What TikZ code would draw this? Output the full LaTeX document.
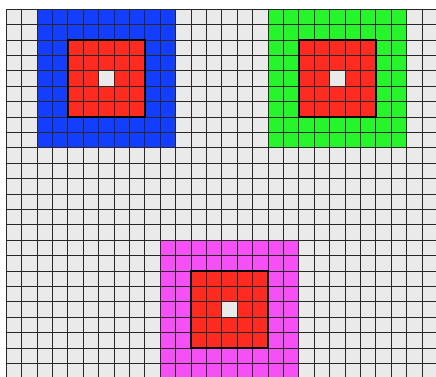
\documentclass[tikz,border=0pt]{standalone}
\definecolor{bgC}{RGB}{234,234,234}
\definecolor{blueC}{RGB}{20,62,255}
\definecolor{greenC}{RGB}{38,245,44}
\definecolor{magC}{RGB}{245,80,245}
\definecolor{redC}{RGB}{255,42,32}
\definecolor{lineC}{RGB}{40,40,40}
\tikzset{
  gridline/.style={draw=lineC, line width=0.9pt},
  redborder/.style={draw=black, line width=2.4pt}
}
\begin{document}
\begin{tikzpicture}[x=1pt,y=-1pt]
\useasboundingbox (0,0) rectangle (436,376);
\clip (0,0) rectangle (436,376);
\fill[white] (0,0) rectangle (436,376);
\begin{scope}[shift={(6.3,9.3)}, x=15.4pt, y=-15.4pt]
  \fill[bgC] (0,0) rectangle (29,24);
  \fill[blueC] (2,0) rectangle (11,9);
  \fill[greenC] (17,0) rectangle (26,9);
  \fill[magC] (10,15) rectangle (19,24);
  \fill[redC] (4,2) rectangle (9,7);
  \fill[redC] (19,2) rectangle (24,7);
  \fill[redC] (12,17) rectangle (17,22);
  \fill[bgC] (6,4) rectangle (7,5);
  \fill[bgC] (21,4) rectangle (22,5);
  \fill[bgC] (14,19) rectangle (15,20);
  \foreach \i in {0,...,28} \draw[gridline] (\i,0) -- (\i,24);
  \foreach \j in {0,...,23} \draw[gridline] (0,\j) -- (29,\j);
  \draw[redborder] (4,2) rectangle (9,7);
  \draw[redborder] (19,2) rectangle (24,7);
  \draw[redborder] (12,17) rectangle (17,22);
\end{scope}
\end{tikzpicture}
\end{document}
